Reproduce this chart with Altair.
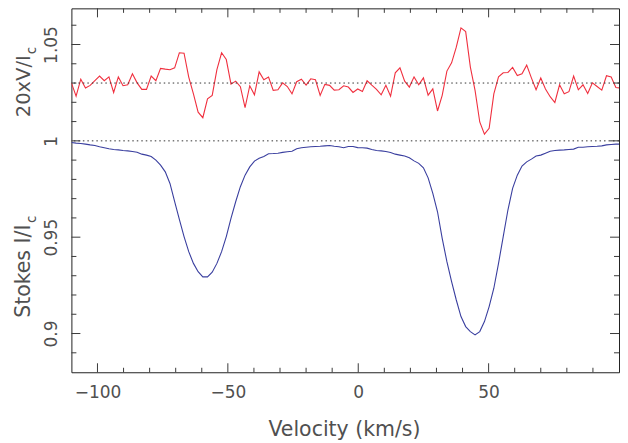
import altair as alt
import pandas as pd

VELOCITY = [-110.0,-108.2,-106.4,-104.6,-102.8,-101.0,-99.2,-97.4,-95.6,-93.8,-92.0,-90.2,-88.4,-86.6,-84.8,-83.0,-81.2,-79.4,-77.6,-75.8,
-74.0,-72.2,-70.4,-68.6,-66.8,-65.0,-63.2,-61.4,-59.6,-57.8,-56.0,-54.2,-52.4,-50.6,-48.8,-47.0,-45.2,-43.4,-41.6,-39.8,
-38.0,-36.2,-34.4,-32.6,-30.8,-29.0,-27.2,-25.4,-23.6,-21.8,-20.0,-18.2,-16.4,-14.6,-12.8,-11.0,-9.2,-7.4,-5.6,-3.8,
-2.0,-0.2,1.6,3.4,5.2,7.0,8.8,10.6,12.4,14.2,16.0,17.8,19.6,21.4,23.2,25.0,26.8,28.6,30.4,32.2,
34.0,35.8,37.6,39.4,41.2,43.0,44.8,46.6,48.4,50.2,52.0,53.8,55.6,57.4,59.2,61.0,62.8,64.6,66.4,68.2,
70.0,71.8,73.6,75.4,77.2,79.0,80.8,82.6,84.4,86.2,88.0,89.8,91.6,93.4,95.2,97.0,98.8,100.0]

STOKES_V = [1.0301,1.0232,1.0320,1.0274,1.0288,1.0312,1.0336,1.0312,1.0332,1.0251,1.0332,1.0286,1.0291,1.0348,1.0301,1.0267,1.0267,1.0336,1.0312,1.0376,
1.0372,1.0369,1.0379,1.0457,1.0455,1.0331,1.0244,1.0149,1.0120,1.0218,1.0236,1.0370,1.0457,1.0422,1.0294,1.0310,1.0281,1.0172,1.0286,1.0239,
1.0358,1.0317,1.0331,1.0262,1.0265,1.0301,1.0282,1.0244,1.0307,1.0320,1.0289,1.0322,1.0317,1.0236,1.0293,1.0288,1.0263,1.0265,1.0286,1.0279,
1.0251,1.0269,1.0256,1.0312,1.0289,1.0267,1.0239,1.0288,1.0232,1.0353,1.0379,1.0310,1.0279,1.0332,1.0291,1.0327,1.0237,1.0270,1.0155,1.0236,
1.0362,1.0405,1.0486,1.0586,1.0567,1.0383,1.0262,1.0098,1.0035,1.0065,1.0244,1.0332,1.0353,1.0355,1.0381,1.0339,1.0348,1.0393,1.0327,1.0265,
1.0326,1.0269,1.0229,1.0199,1.0291,1.0244,1.0255,1.0336,1.0265,1.0291,1.0246,1.0301,1.0282,1.0263,1.0338,1.0331,1.0277,1.0275]

STOKES_I = [.9991,.9988,.9986,.9983,.9979,.9976,.9969,.9964,.9959,.9955,.9953,.9950,.9948,.9945,.9941,.9931,.9926,.9919,.9900,.9874,
.9839,.9779,.9684,.9592,.9503,.9425,.9364,.9321,.9294,.9294,.9318,.9364,.9425,.9503,.9598,.9684,.9762,.9822,.9865,.9895,
.9910,.9919,.9933,.9934,.9936,.9940,.9943,.9946,.9959,.9964,.9967,.9969,.9971,.9972,.9974,.9976,.9972,.9969,.9964,.9971,
.9971,.9965,.9964,.9962,.9955,.9950,.9948,.9945,.9940,.9931,.9926,.9921,.9912,.9896,.9883,.9860,.9808,.9727,.9632,.9494,
.9373,.9269,.9174,.9088,.9036,.9010,.8993,.9010,.9062,.9140,.9235,.9364,.9503,.9641,.9753,.9822,.9869,.9891,.9905,.9921,
.9926,.9936,.9946,.9950,.9952,.9953,.9955,.9957,.9967,.9967,.9969,.9971,.9972,.9974,.9979,.9981,.9983,.9983]

X_MAJOR = [-100, -50, 0, 50]
X_MINOR = [-90, -80, -70, -60, -40, -30, -20, -10, 10, 20, 30, 40, 60, 70, 80, 90]
Y_MAJOR = [0.9, 0.95, 1.0, 1.05]
Y_MINOR = [0.89, 0.91, 0.92, 0.93, 0.94, 0.96, 0.97, 0.98, 0.99, 1.01, 1.02, 1.03, 1.04, 1.06]
DOTTED_LEVELS = [1.0, 1.03]
X_DOMAIN = [-110, 100]
Y_DOMAIN = [0.8799, 1.06876]

W, H = 548.5, 364.5
INK = "#3a3a3a"
TEXT = "#505050"
FONT = "DejaVu Sans"

n = min(len(VELOCITY), len(STOKES_V), len(STOKES_I))
df = pd.DataFrame({"v": VELOCITY[:n], "V": STOKES_V[:n], "I": STOKES_I[:n]})

xs = alt.Scale(domain=X_DOMAIN, nice=False, zero=False)
ys = alt.Scale(domain=Y_DOMAIN, nice=False, zero=False)

x_axis = alt.Axis(values=X_MAJOR, title=None, grid=False, domain=False, ticks=False,
                  labelFont=FONT, labelFontSize=17, labelColor=TEXT, labelPadding=12,
                  labelBaseline="top", labelOverlap=False)
y_axis = alt.Axis(values=Y_MAJOR, title=None, grid=False, domain=False, ticks=False,
                  labelFont=FONT, labelFontSize=17, labelColor=TEXT, labelPadding=19.5,
                  labelAngle=270, labelAlign="center", labelBaseline="middle",
                  labelOverlap=False, labelExpr="format(datum.value, '.2~f')")


def X(field="v"):
    return alt.X(field, type="quantitative", scale=xs, axis=x_axis)


def Y(field):
    return alt.Y(field, type="quantitative", scale=ys, axis=y_axis)


def xticks(values, size):
    d = alt.Data(values=[{"t": t} for t in values])
    bottom = alt.Chart(d).mark_rule(color=INK, strokeWidth=1).encode(
        x=X("t"), y=alt.value(H), y2=alt.value(H - size))
    top = alt.Chart(d).mark_rule(color=INK, strokeWidth=1).encode(
        x=X("t"), y=alt.value(0), y2=alt.value(size))
    return [bottom, top]


def yticks(values, size):
    d = alt.Data(values=[{"t": t} for t in values])
    left = alt.Chart(d).mark_rule(color=INK, strokeWidth=1).encode(
        y=Y("t"), x=alt.value(0), x2=alt.value(size))
    right = alt.Chart(d).mark_rule(color=INK, strokeWidth=1).encode(
        y=Y("t"), x=alt.value(W), x2=alt.value(W - size))
    return [left, right]


def label(text, x, y, size=20, angle=0, align="left"):
    return alt.Chart(alt.Data(values=[{}])).mark_text(
        text=text, font=FONT, fontSize=size, color=TEXT, angle=angle,
        align=align, baseline="alphabetic").encode(x=alt.value(x), y=alt.value(y))


line_v = alt.Chart(df).mark_line(color="#f0303f", strokeWidth=1.1, clip=True).encode(
    x=X("v"), y=Y("V"))
line_i = alt.Chart(df).mark_line(color="#3a3f9f", strokeWidth=1.1, clip=True).encode(
    x=X("v"), y=Y("I"))
dotted = alt.Chart(alt.Data(values=[{"l": l} for l in DOTTED_LEVELS])).mark_rule(
    color="#333333", strokeWidth=1, strokeDash=[1.5, 3]).encode(y=Y("l"))

layers = [line_v, line_i, dotted]
layers += xticks(X_MAJOR, 9) + xticks(X_MINOR, 4.5) + yticks(Y_MAJOR, 9) + yticks(Y_MINOR, 5)
layers += [
    label("20xV/I", -41.5, 109, 19.5, 270),
    label("c", -35.5, 46, 13.5, 270),
    label("Stokes I/I", -41.5, 310, 20.5, 270),
    label("c", -35.5, 215, 13.5, 270),
    label("Velocity (km/s)", 273.5, 428, 20.5, 0, "center"),
]

chart = alt.layer(*layers).properties(
    width=W, height=H,
    autosize=alt.AutoSizeParams(type="none", contains="content"),
    padding={"left": 63.5, "top": 0, "right": 1, "bottom": 70},
).configure_view(stroke="#222222", strokeWidth=1)

chart.save("out.html", embed_options={"renderer": "svg", "actions": False})
